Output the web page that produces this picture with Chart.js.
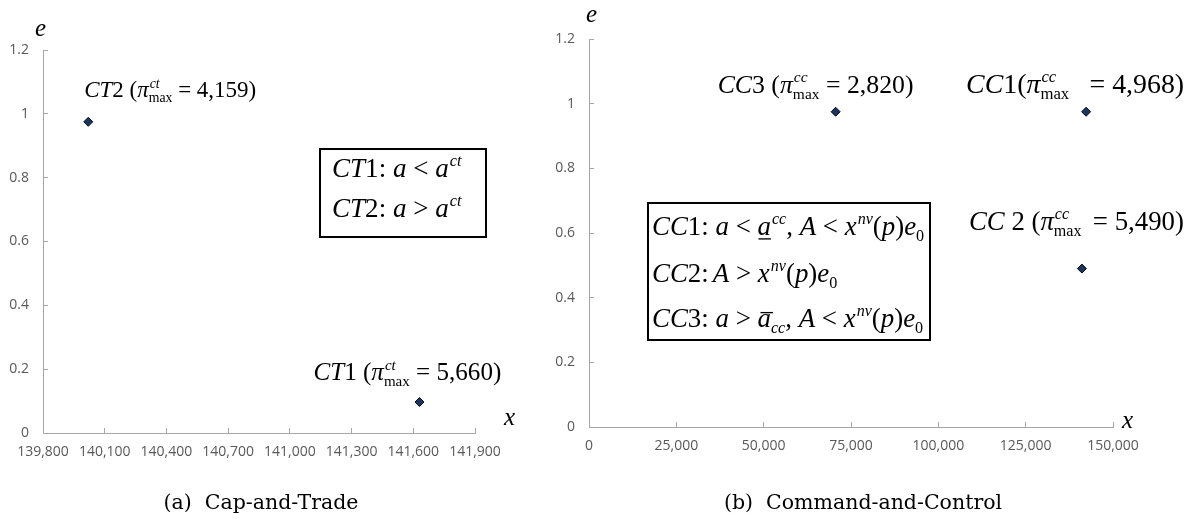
<!DOCTYPE html>
<html>
<head>
<meta charset="utf-8">
<script src="https://cdn.jsdelivr.net/npm/chart.js@4.4.0/dist/chart.umd.min.js"></script>
<style>
  html, body { margin: 0; padding: 0; background: #fff; }
  body { width: 1193px; height: 523px; position: relative; overflow: hidden; }
  .panel { position: absolute; top: 0; height: 523px; }
  #left { left: 0; width: 540px; }
  #right { left: 540px; width: 653px; }
  .cap { position: absolute; top: 490px; line-height: 24px; font-family: "DejaVu Serif", serif; font-size: 20.5px; color: #000; white-space: nowrap; transform: translateX(-50%); }
</style>
</head>
<body>
<div class="panel" id="left"><canvas id="ctChart"></canvas></div>
<div class="panel" id="right"><canvas id="ccChart"></canvas></div>
<div class="cap" style="left:261px">(a)&nbsp; Cap-and-Trade</div>
<div class="cap" style="left:863px">(b)&nbsp; Command-and-Control</div>
<script>
// cap-and-trade panel
const ctXTicks = [139800, 140100, 140400, 140700, 141000, 141300, 141600, 141900];
const ctYTicks = [0, 0.2, 0.4, 0.6, 0.8, 1, 1.2];
const ctNames = ['CT2', 'CT1'];
const ctX = [140020, 141630];
const ctE = [0.975, 0.097];
const ctProfit = ['4,159', '5,660'];

// command-and-control panel
const ccXTicks = [0, 25000, 50000, 75000, 100000, 125000, 150000];
const ccYTicks = [0, 0.2, 0.4, 0.6, 0.8, 1, 1.2];
const ccNames = ['CC3', 'CC1', 'CC2'];
const ccX = [70600, 142300, 141100];
const ccE = [0.975, 0.975, 0.49];
const ccProfit = ['2,820', '4,968', '5,490'];

const SERIF = '"Liberation Serif", "Times New Roman", serif';
const font = (size, italic) => (italic ? 'italic ' : '') + size + 'px ' + SERIF;

// draws a small piece of math text, returns its width
function rich(ctx, parts, x, y, size, draw, fill) {
    let cx = x;
    const small = size * 0.6;
    const put = (t, sz, it, yy, at) => {
        ctx.font = font(sz, it);
        if (draw) ctx.fillText(t, at, yy);
        return ctx.measureText(t).width;
    };
    for (const p of parts) {
        const k = p[0];
        if (k === 'i' || k === 'r') {
            cx += put(p[1], size, k === 'i', y, cx);
        } else if (k === 'sup') {
            cx += put(p[1], small, true, y - size * 0.4, cx + 1) + 1;
        } else if (k === 'sub') {
            cx += put(p[1], small, p[2], y + size * 0.22, cx);
        } else if (k === 'ss') {
            const w1 = put(p[1], small, true, y - size * 0.4, cx + 1);
            const w2 = put(p[2], small, false, y + size * 0.24, cx);
            cx += Math.max(w1 + 1, w2);
        } else if (k === 'ul' || k === 'ol') {
            const w = put(p[1], size, true, y, cx);
            if (draw) {
                const ly = k === 'ul' ? y + size * 0.12 : y - size * 0.56;
                const sh = k === 'ul' ? 0 : 2;
                ctx.fillRect(cx + 1 + sh, ly, w - 1, Math.max(1, size * 0.05));
            }
            cx += w;
        } else if (k === 'sp') {
            cx += size * p[1];
        } else if (k === 'fill') {
            cx += fill || 0;
        }
    }
    return cx - x;
}

function nameParts(name, gap) {
    return [['i', name.slice(0, 2)], ['sp', gap], ['r', name.slice(2)]];
}

function profitLabel(name, letters, value, gap, gap2) {
    return nameParts(name, gap).concat([
        ['sp', gap2], ['r', '('], ['i', 'π'], ['ss', letters, 'max'],
        ['fill'], ['r', ' = ' + value + ')']
    ]);
}

const xnv = [['i', 'x'], ['sup', 'nv'], ['r', '('], ['i', 'p'], ['r', ')'], ['i', 'e'], ['sub', '0', false]];

const notesPlugin = {
    id: 'notes',
    afterDraw(chart, args, opts) {
        const ctx = chart.ctx;
        const area = chart.chartArea;
        const meta = chart.getDatasetMeta(0);
        ctx.save();
        ctx.fillStyle = '#000';
        ctx.textAlign = 'left';
        ctx.textBaseline = 'alphabetic';

        // font size from the label width, or scaled from another label and the rest as spacing
        const sizes = [];
        opts.labels.forEach((lb, i) => {
            const pt = meta.data[i];
            let size, extra = 0;
            if (lb.sizeFrom !== undefined) {
                size = sizes[lb.sizeFrom] * lb.scale;
                extra = Math.max(0, lb.w - rich(ctx, lb.parts, 0, 0, size, false));
            } else {
                size = 20 * lb.w / rich(ctx, lb.parts, 0, 0, 20, false);
            }
            sizes[i] = size;
            rich(ctx, lb.parts, pt.x + lb.dx, pt.y + lb.dy, size, true, extra);
        });

        const b = opts.box;
        const bx = area.left + b.left, by = area.top + b.top;
        ctx.lineWidth = 2;
        ctx.strokeStyle = '#000';
        ctx.strokeRect(bx, by, b.width, b.height);
        const size = 20 * b.w / rich(ctx, b.lines[0], 0, 0, 20, false);
        b.lines.forEach((ln, j) => rich(ctx, ln, bx + b.padX, by + b.base[j], size, true));

        ctx.font = font(opts.axisSize, true);
        ctx.fillText('e', area.left + opts.eAt[0], area.top + opts.eAt[1]);
        ctx.fillText('x', area.right + opts.xAt[0], area.bottom + opts.xAt[1]);
        ctx.restore();
    }
};

const tickText = v => Number(v.toFixed(2)).toLocaleString('en-US');

function scatterChart(id, xs, es, xTicks, yTicks, pad, yWidth, notes) {
    const axisColor = '#a6a6a6';
    const tickFont = { family: '"Open Sans", sans-serif', size: 14 };
    return new Chart(document.getElementById(id), {
        type: 'scatter',
        data: {
            datasets: [{
                data: xs.map((v, i) => ({ x: v, y: es[i] })),
                pointStyle: 'rectRot',
                pointRadius: 4.5,
                pointHoverRadius: 4.5,
                backgroundColor: '#1c3560',
                borderColor: '#05070d',
                borderWidth: 1
            }]
        },
        options: {
            responsive: true,
            maintainAspectRatio: false,
            animation: false,
            devicePixelRatio: 1,
            layout: { padding: pad },
            plugins: {
                legend: { display: false },
                tooltip: { enabled: false },
                notes: notes
            },
            scales: {
                x: {
                    type: 'linear',
                    min: xTicks[0],
                    max: xTicks[xTicks.length - 1],
                    ticks: { stepSize: xTicks[1] - xTicks[0], padding: 16, color: '#595959', font: tickFont, maxRotation: 0, autoSkip: false, callback: tickText },
                    grid: { drawOnChartArea: false, tickLength: -5, color: axisColor },
                    border: { color: axisColor },
                    afterFit: s => { s.height = 40; }
                },
                y: {
                    min: yTicks[0],
                    max: yTicks[yTicks.length - 1],
                    ticks: { stepSize: yTicks[1] - yTicks[0], padding: 19, color: '#595959', font: tickFont, callback: tickText },
                    grid: { drawOnChartArea: false, tickLength: -5, color: axisColor },
                    border: { color: axisColor },
                    afterFit: s => { s.width = yWidth; }
                }
            }
        },
        plugins: [notesPlugin]
    });
}

scatterChart('ctChart', ctX, ctE, ctXTicks, ctYTicks,
    { top: 50, right: 65, bottom: 50, left: 0 }, 43, {
        labels: [
            { parts: profitLabel(ctNames[0], 'ct', ctProfit[0], 0, 0.25), dx: -4, dy: -25, w: 172 },
            { parts: profitLabel(ctNames[1], 'ct', ctProfit[1], 0, 0.25), dx: -106, dy: -22, w: 188 }
        ],
        box: {
            left: 277, top: 99, width: 166, height: 88, padX: 12, base: [28, 68], w: 130,
            lines: [
                [['i', 'CT'], ['r', '1: '], ['i', 'a'], ['r', ' < '], ['i', 'a'], ['sup', 'ct']],
                [['i', 'CT'], ['r', '2: '], ['i', 'a'], ['r', ' > '], ['i', 'a'], ['sup', 'ct']]
            ]
        },
        axisSize: 25, eAt: [-8, -14], xAt: [29, -8]
    });

scatterChart('ccChart', ccX, ccE, ccXTicks, ccYTicks,
    { top: 39, right: 80, bottom: 56, left: 0 }, 49, {
        labels: [
            { parts: profitLabel(ccNames[0], 'cc', ccProfit[0], 0, 0.25), dx: -118, dy: -19, w: 196 },
            { parts: profitLabel(ccNames[1], 'cc', ccProfit[1], 0, 0), dx: -120, dy: -19, w: 218, sizeFrom: 0, scale: 1.08 },
            { parts: profitLabel(ccNames[2], 'cc', ccProfit[2], 0.25, 0.25), dx: -113, dy: -39, w: 215, sizeFrom: 0, scale: 1.04 }
        ],
        box: {
            left: 59, top: 164, width: 282, height: 137, padX: 4, base: [32, 79, 124], w: 273,
            lines: [
                [['i', 'CC'], ['r', '1: '], ['i', 'a'], ['r', ' < '], ['ul', 'a'], ['sup', 'cc'], ['r', ', '], ['i', 'A'], ['r', ' < ']].concat(xnv),
                [['i', 'CC'], ['r', '2:'], ['sp', 0.15], ['i', 'A'], ['r', ' > ']].concat(xnv),
                [['i', 'CC'], ['r', '3: '], ['i', 'a'], ['r', ' > '], ['ol', 'a'], ['sub', 'cc', true], ['r', ', '], ['i', 'A'], ['r', ' < ']].concat(xnv)
            ]
        },
        axisSize: 25, eAt: [-3, -17], xAt: [9, 1]
    });
</script>
</body>
</html>
